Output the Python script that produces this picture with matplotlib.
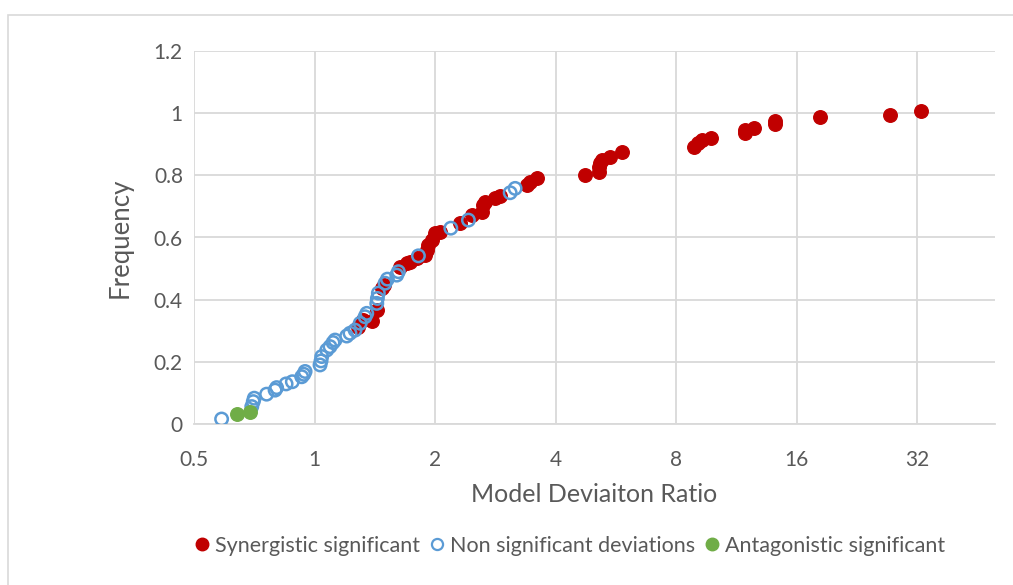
import matplotlib
matplotlib.use("Agg")
import matplotlib.pyplot as plt
from matplotlib.patches import Rectangle
from matplotlib.lines import Line2D

plt.rcParams['font.family'] = ['Lato', 'DejaVu Sans']

# Synergistic significant
syn_x = [1.287, 1.324, 1.392, 1.430, 1.472, 1.49, 1.636, 1.700, 1.732, 1.800,
         1.888, 1.907, 1.924, 1.963, 2.000, 2.058, 2.309, 2.470, 2.617, 2.641,
         2.667, 2.825, 2.907, 3.389, 3.454, 3.590, 4.741, 5.117, 5.138, 5.166,
         5.227, 5.472, 5.852, 8.84, 9.09, 9.27, 9.78, 11.9, 11.9, 12.53,
         14.14, 14.14, 18.3, 27.4, 32.6]
syn_y = [0.313, 0.335, 0.331, 0.367, 0.437, 0.447, 0.506, 0.517, 0.522, 0.533,
         0.544, 0.560, 0.576, 0.592, 0.613, 0.619, 0.646, 0.672, 0.683, 0.705,
         0.715, 0.726, 0.734, 0.769, 0.780, 0.790, 0.801, 0.812, 0.827, 0.839,
         0.849, 0.860, 0.876, 0.892, 0.903, 0.914, 0.919, 0.935, 0.946, 0.951,
         0.964, 0.975, 0.987, 0.994, 1.007]

# Non significant deviations
non_x = [0.586, 0.697, 0.703, 0.707, 0.759, 0.797, 0.804, 0.849, 0.880, 0.929,
         0.940, 0.947, 1.032, 1.038, 1.042, 1.073, 1.093, 1.112, 1.125, 1.203,
         1.226, 1.262, 1.300, 1.337, 1.350, 1.430, 1.435, 1.443, 1.500, 1.520,
         1.604, 1.619, 1.817, 2.189, 2.422, 3.079, 3.168]
non_y = [0.016, 0.056, 0.072, 0.083, 0.096, 0.109, 0.117, 0.129, 0.136, 0.152,
         0.160, 0.169, 0.190, 0.203, 0.217, 0.238, 0.249, 0.262, 0.270, 0.283,
         0.292, 0.302, 0.324, 0.345, 0.356, 0.388, 0.404, 0.421, 0.453, 0.466,
         0.479, 0.490, 0.541, 0.630, 0.656, 0.744, 0.758]

# Antagonistic significant
ant_x = [0.641, 0.690]
ant_y = [0.032, 0.040]

x_ticks = [0.5, 1, 2, 4, 8, 16, 32]
x_labels = ['0.5', '1', '2', '4', '8', '16', '32']
y_ticks = [0, 0.2, 0.4, 0.6, 0.8, 1.0, 1.2]
y_labels = ['0', '0.2', '0.4', '0.6', '0.8', '1', '1.2']

red = '#C00000'
blue = '#5B9BD5'
green = '#70AD47'
grid = '#D9D9D9'
txt = '#595959'

fig = plt.figure(figsize=(10.13, 5.85), dpi=100)
fig.patches.append(Rectangle((8 / 1013, -0.1), 1.2, 1.1 - 15 / 585, transform=fig.transFigure,
                             fill=False, edgecolor=grid, linewidth=1.2))
ax = fig.add_axes([194 / 1013, 1 - 424 / 585, (995 - 194) / 1013, (424 - 51) / 585])

ax.scatter(syn_x, syn_y, s=95, color=red, zorder=3)
ax.scatter(non_x, non_y, s=80, facecolors='none', edgecolors=blue, linewidths=1.8, zorder=4)
ax.scatter(ant_x, ant_y, s=95, color=green, zorder=5)

ax.set_xscale('log', base=2)
ax.set_xlim(0.5, 50)
ax.set_ylim(0, 1.2)
ax.set_xticks(x_ticks)
ax.set_xticklabels(x_labels)
ax.set_xticks([], minor=True)
ax.set_yticks(y_ticks)
ax.set_yticklabels(y_labels)
ax.tick_params(length=0, labelsize=15, labelcolor=txt)
ax.tick_params(axis='x', pad=19)
ax.tick_params(axis='y', pad=8)
ax.grid(True, color=grid, linewidth=1.3)
ax.set_axisbelow(True)
for side in ['top', 'right', 'left']:
    ax.spines[side].set_visible(False)
ax.spines['bottom'].set_color(grid)
ax.spines['bottom'].set_linewidth(1.3)

ax.set_xlabel('Model Deviaiton Ratio', fontsize=18, color=txt, va='center', ha='center')
ax.xaxis.set_label_coords(0.5, (424 - 494) / 373)
ax.set_ylabel('Frequency', fontsize=18.5, color=txt, va='center', ha='center')
ax.yaxis.set_label_coords((120 - 194) / 801, 0.5)

handles = [
    Line2D([], [], marker='o', linestyle='none', color=red, markersize=9),
    Line2D([], [], marker='o', linestyle='none', markerfacecolor='none',
           markeredgecolor=blue, markeredgewidth=1.6, markersize=8),
    Line2D([], [], marker='o', linestyle='none', color=green, markersize=9),
]
labels = ['Synergistic significant', 'Non significant deviations', 'Antagonistic significant']
fig.legend(handles, labels, loc='center', bbox_to_anchor=(568 / 1013, 1 - 546 / 585), ncol=3,
           frameon=False, fontsize=15.5, labelcolor=txt, handletextpad=0.1, columnspacing=0.3,
           handlelength=1.0)

fig.savefig('out.png', dpi=100)
